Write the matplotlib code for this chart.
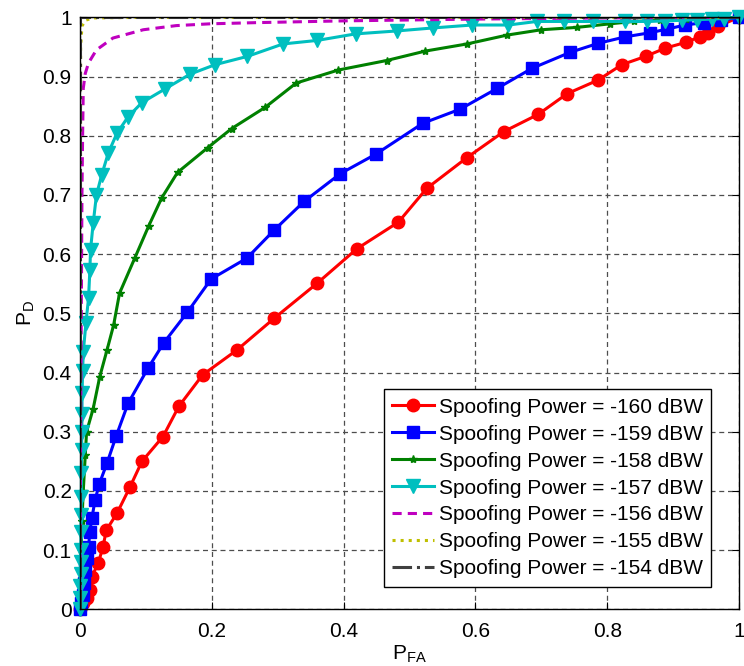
import matplotlib
matplotlib.use('Agg')
import matplotlib.pyplot as plt

plt.rcParams['font.family'] = ['Liberation Sans', 'DejaVu Sans']
plt.rcParams['mathtext.fontset'] = 'custom'
plt.rcParams['mathtext.rm'] = 'Liberation Sans'

# data ------------------------------------------------------------
labels = ['Spoofing Power = -160 dBW', 'Spoofing Power = -159 dBW',
          'Spoofing Power = -158 dBW', 'Spoofing Power = -157 dBW',
          'Spoofing Power = -156 dBW', 'Spoofing Power = -155 dBW',
          'Spoofing Power = -154 dBW']

pfa_160 = [0, 0.005, 0.010, 0.015, 0.018, 0.028, 0.035, 0.040, 0.056, 0.076, 0.094, 0.126,
           0.150, 0.186, 0.238, 0.295, 0.360, 0.420, 0.483, 0.526, 0.587, 0.643, 0.695,
           0.739, 0.786, 0.822, 0.858, 0.888, 0.920, 0.940, 0.953, 0.968, 1.0]
pd_160 = [0, 0.010, 0.020, 0.033, 0.055, 0.079, 0.106, 0.134, 0.162, 0.207, 0.250, 0.292,
          0.343, 0.396, 0.438, 0.492, 0.551, 0.609, 0.654, 0.711, 0.763, 0.807, 0.836,
          0.871, 0.894, 0.920, 0.934, 0.948, 0.958, 0.967, 0.973, 0.985, 1.0]

pfa_159 = [0, 0.002, 0.004, 0.006, 0.008, 0.010, 0.013, 0.015, 0.018, 0.023, 0.029, 0.041,
           0.055, 0.073, 0.103, 0.127, 0.163, 0.199, 0.253, 0.295, 0.340, 0.395, 0.449,
           0.520, 0.577, 0.633, 0.686, 0.744, 0.786, 0.827, 0.865, 0.890, 0.918, 0.946,
           0.973, 1.0]
pd_159 = [0, 0.010, 0.025, 0.045, 0.067, 0.086, 0.106, 0.131, 0.154, 0.185, 0.211, 0.247,
          0.293, 0.348, 0.407, 0.450, 0.502, 0.558, 0.593, 0.641, 0.689, 0.736, 0.769,
          0.821, 0.845, 0.880, 0.914, 0.941, 0.956, 0.967, 0.974, 0.980, 0.987, 0.991,
          0.995, 1.0]

pfa_158 = [0, 0.001, 0.002, 0.003, 0.005, 0.008, 0.010, 0.020, 0.030, 0.041, 0.051, 0.060,
           0.083, 0.104, 0.124, 0.148, 0.194, 0.230, 0.281, 0.328, 0.392, 0.465, 0.524,
           0.587, 0.648, 0.700, 0.754, 0.804, 0.840, 0.880, 0.920, 0.960, 1.0]
pd_158 = [0, 0.05, 0.10, 0.15, 0.20, 0.26, 0.30, 0.339, 0.393, 0.438, 0.480, 0.534,
          0.593, 0.647, 0.695, 0.738, 0.780, 0.812, 0.848, 0.889, 0.911, 0.927, 0.943,
          0.955, 0.970, 0.979, 0.983, 0.989, 0.993, 0.995, 0.997, 0.999, 1.0]

pfa_157 = [0, 0.0003, 0.0006, 0.0008, 0.001, 0.0012, 0.0015, 0.0018, 0.002, 0.0022, 0.0025,
           0.0028, 0.003, 0.0032, 0.004, 0.005, 0.009, 0.013, 0.015, 0.016, 0.020, 0.025,
           0.033, 0.043, 0.056, 0.073, 0.094, 0.129, 0.167, 0.205, 0.254, 0.308, 0.360,
           0.418, 0.481, 0.535, 0.595, 0.650, 0.693, 0.734, 0.779, 0.827, 0.860, 0.888,
           0.913, 0.936, 0.959, 0.977, 1.0]
pd_157 = [0, 0.02, 0.04, 0.06, 0.08, 0.10, 0.13, 0.16, 0.19, 0.23, 0.27,
          0.30, 0.33, 0.365, 0.402, 0.435, 0.483, 0.526, 0.573, 0.607, 0.652, 0.700,
          0.734, 0.771, 0.804, 0.832, 0.856, 0.879, 0.904, 0.920, 0.934, 0.955, 0.961,
          0.972, 0.977, 0.982, 0.987, 0.987, 0.993, 0.993, 0.993, 0.993, 0.993, 0.994,
          0.995, 0.996, 0.997, 0.998, 1.0]

pfa_156 = [0, 0.001, 0.002, 0.003, 0.004, 0.005, 0.008, 0.013, 0.025, 0.050, 0.096, 0.146,
           0.197, 0.267, 0.4, 0.6, 0.8, 1.0]
pd_156 = [0, 0.3, 0.5, 0.7, 0.8, 0.88, 0.905, 0.923, 0.945, 0.965, 0.979, 0.986,
          0.989, 0.991, 0.994, 0.997, 0.999, 1.0]

pfa_155 = [0, 0.001, 0.003, 0.008, 0.02, 0.1, 1.0]
pd_155 = [0, 0.95, 0.985, 0.995, 0.999, 1.0, 1.0]

pfa_154 = [0, 0, 1.0]
pd_154 = [0, 1.0, 1.0]

# plot --------------------------------------------------------------
fig = plt.figure(figsize=(7.44, 6.66), dpi=100)
ax = fig.add_axes([0.1075, 0.085, 0.886, 0.889])

ax.plot(pfa_160, pd_160, '-o', color='r', lw=2.2, ms=9, label=labels[0], clip_on=False)
ax.plot(pfa_159, pd_159, '-s', color='b', lw=2.2, ms=8, label=labels[1], clip_on=False)
ax.plot(pfa_158, pd_158, '-*', color=(0, 0.5, 0), lw=2.2, ms=6, label=labels[2], clip_on=False)
ax.plot(pfa_157, pd_157, '-v', color=(0, 0.75, 0.75), lw=2.2, ms=10, label=labels[3], clip_on=False)
ax.plot(pfa_156, pd_156, '--', color=(0.75, 0, 0.75), lw=2.2, dashes=(3, 2), label=labels[4])
ax.plot(pfa_155, pd_155, ':', color=(0.75, 0.75, 0), lw=2.2, label=labels[5])
ax.plot(pfa_154, pd_154, '-.', color=(0.25, 0.25, 0.25), lw=2.2, label=labels[6])

ax.set_xlim(0, 1)
ax.set_ylim(0, 1)
ax.set_xticks([0, 0.2, 0.4, 0.6, 0.8, 1])
ax.set_xticklabels(['0', '0.2', '0.4', '0.6', '0.8', '1'])
ax.set_yticks([i / 10 for i in range(11)])
ax.set_yticklabels(['0', '0.1', '0.2', '0.3', '0.4', '0.5', '0.6', '0.7', '0.8', '0.9', '1'])
ax.tick_params(direction='in', length=5, labelsize=15, top=True, right=True)
ax.tick_params(axis='x', pad=9)
ax.tick_params(axis='y', pad=6)
ax.grid(True, color='0.3', linestyle=(0, (4, 3)), lw=0.9)
for s in ax.spines.values():
    s.set_linewidth(1.0)

ax.set_xlabel('$\\mathrm{P_{FA}}$', fontsize=15, labelpad=2)
ax.set_ylabel('$\\mathrm{P_{D}}$', fontsize=15, labelpad=4)

leg = ax.legend(loc='lower right', bbox_to_anchor=(0.958, 0.0385), borderaxespad=0,
                fontsize=15, fancybox=False, edgecolor='k', framealpha=1,
                handlelength=2.0, labelspacing=0.38, handletextpad=0.25, borderpad=0.4)
leg.get_frame().set_linewidth(1.0)

fig.savefig('out.png', dpi=100)
